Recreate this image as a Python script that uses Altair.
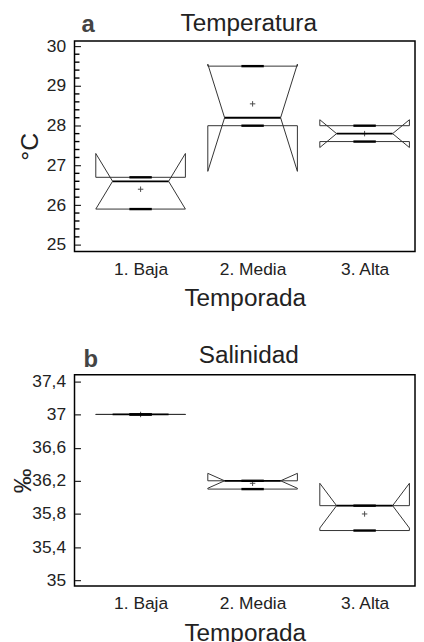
import altair as alt
import pandas as pd

categories = ["1. Baja", "2. Media", "3. Alta"]

# Temperatura (°C): notched box statistics per season
temp_q1 = [25.9, 28.0, 27.6]
temp_med = [26.6, 28.2, 27.8]
temp_q3 = [26.7, 29.5, 28.0]
temp_notch_lo = [25.9, 26.85, 27.45]
temp_notch_hi = [27.3, 29.55, 28.15]
temp_mean = [26.4, 28.55, 27.8]
temp_min = [25.9, 28.0, 27.6]
temp_max = [26.7, 29.5, 28.0]

# Salinidad (‰)
sal_q1 = [37.0, 36.1, 35.6]
sal_med = [37.0, 36.2, 35.9]
sal_q3 = [37.0, 36.2, 35.9]
sal_notch_lo = [37.0, 36.11, 35.63]
sal_notch_hi = [37.0, 36.29, 36.17]
sal_mean = [37.0, 36.17, 35.8]
sal_min = [37.0, 36.1, 35.6]
sal_max = [37.0, 36.2, 35.9]

temp_major = [25, 26, 27, 28, 29, 30]
temp_minor = [25.2, 25.4, 25.6, 25.8, 26.2, 26.4, 26.6, 26.8, 27.2, 27.4, 27.6, 27.8,
              28.2, 28.4, 28.6, 28.8, 29.2, 29.4, 29.6, 29.8]
sal_major = [35.0, 35.4, 35.8, 36.2, 36.6, 37.0, 37.4]

BW = 0.4   # box half width (category units)
NW = 0.25  # notch waist half width
CW = 0.1   # whisker cap half width

FONT = "Liberation Sans"
TXT = "#222222"
W = 343

label_js = "[" + ",".join("'" + c + "'" for c in categories) + "][datum.value - 1]"


def panel(title, letter, ytitle, q1, med, q3, nlo, nhi, mean, mn, mx,
          ydomain, major, minor, height, letter_x, letter_y, title_y, ytitle_pad):
    rows = []
    for i, cat in enumerate(categories):
        c = i + 1
        pts = [
            (c - BW, q1[i]), (c - BW, nlo[i]), (c - NW, med[i]), (c - BW, nhi[i]),
            (c - BW, q3[i]), (c + BW, q3[i]), (c + BW, nhi[i]), (c + NW, med[i]),
            (c + BW, nlo[i]), (c + BW, q1[i]), (c - BW, q1[i]),
        ]
        for k, (x, y) in enumerate(pts):
            rows.append({"cat": cat, "i": k, "x": x, "y": y})
    poly = pd.DataFrame(rows)

    stats = pd.DataFrame({
        "cat": categories,
        "c": [1, 2, 3],
        "med": med, "mean": mean, "mn": mn, "mx": mx,
    })
    stats["wl"] = stats["c"] - NW
    stats["wr"] = stats["c"] + NW
    stats["cl"] = stats["c"] - CW
    stats["cr"] = stats["c"] + CW

    xs = alt.Scale(domain=[0.41, 3.45], nice=False, zero=False)
    ys = alt.Scale(domain=ydomain, nice=False, zero=False)

    xaxis = alt.Axis(values=[1, 2, 3], labelExpr=label_js, ticks=False, domain=False,
                     grid=False, title="Temporada", labelFontSize=17.5, titleFontSize=24.5,
                     labelPadding=9, titlePadding=9, labelColor=TXT, titleColor=TXT,
                     titleFontWeight="normal", labelFont=FONT, titleFont=FONT)
    yaxis = alt.Axis(values=major, tickCount=50, orient="left", offset=-6, tickSize=6,
                     tickWidth=1.2, tickColor=TXT, domain=False, grid=False,
                     labelOverlap=False,
                     labelExpr="replace(format(datum.value, '.1~f'), '.', ',')",
                     labelFontSize=17.5, labelPadding=9, labelColor=TXT, labelFont=FONT,
                     title=ytitle, titleFontSize=25, titleFontWeight="normal",
                     titleColor=TXT, titlePadding=ytitle_pad, titleFont=FONT)

    lines = alt.Chart(poly).mark_line(color="#333333", strokeWidth=1).encode(
        x=alt.X("x:Q", scale=xs, axis=xaxis),
        y=alt.Y("y:Q", scale=ys, axis=yaxis),
        detail="cat:N",
        order="i:Q",
    )
    medians = alt.Chart(stats).mark_rule(color="black", strokeWidth=1.8).encode(
        x=alt.X("wl:Q", scale=xs), x2="wr:Q", y=alt.Y("med:Q", scale=ys))
    cap_lo = alt.Chart(stats).mark_rule(color="black", strokeWidth=2.4).encode(
        x=alt.X("cl:Q", scale=xs), x2="cr:Q", y=alt.Y("mn:Q", scale=ys))
    cap_hi = alt.Chart(stats).mark_rule(color="black", strokeWidth=2.4).encode(
        x=alt.X("cl:Q", scale=xs), x2="cr:Q", y=alt.Y("mx:Q", scale=ys))
    means = alt.Chart(stats).mark_point(
        shape="M-1,0L1,0M0,-1L0,1", size=30, color="black", strokeWidth=1, filled=False
    ).encode(x=alt.X("c:Q", scale=xs), y=alt.Y("mean:Q", scale=ys))

    layers = [lines, medians, cap_lo, cap_hi, means]

    if minor:
        mt = alt.Chart(pd.DataFrame({"v": minor})).mark_rule(
            color="black", strokeWidth=1.4
        ).encode(y=alt.Y("v:Q", scale=ys), x=alt.value(0), x2=alt.value(5))
        layers.append(mt)

    lab = alt.Chart(pd.DataFrame({"t": [letter]})).mark_text(
        fontSize=24, fontWeight="bold", color="#444444", align="left",
        baseline="alphabetic", font=FONT,
    ).encode(text="t:N", x=alt.value(letter_x), y=alt.value(letter_y))
    ttl = alt.Chart(pd.DataFrame({"t": [title]})).mark_text(
        fontSize=24.5, color=TXT, align="center", baseline="alphabetic", font=FONT,
    ).encode(text="t:N", x=alt.value(W / 2 + 4), y=alt.value(title_y))
    layers += [lab, ttl]

    return alt.layer(*layers).properties(width=W, height=height)


top = panel("Temperatura", "a", "°C", temp_q1, temp_med, temp_q3, temp_notch_lo,
            temp_notch_hi, temp_mean, temp_min, temp_max,
            [24.83, 30.13], temp_major, temp_minor, 212, 7, -9, -10, 4)
bottom = panel("Salinidad", "b", "‰", sal_q1, sal_med, sal_q3, sal_notch_lo,
               sal_notch_hi, sal_mean, sal_min, sal_max,
               [34.93, 37.48], sal_major, None, 213, 9, -8, -12, -4)

chart = alt.vconcat(top, bottom, spacing=31).properties(
    padding={"left": 2, "right": 0, "top": 0, "bottom": 0}
).configure(font=FONT).configure_view(stroke="black", strokeWidth=1.5)

chart.save("out.html", embed_options={"renderer": "svg", "actions": False})
